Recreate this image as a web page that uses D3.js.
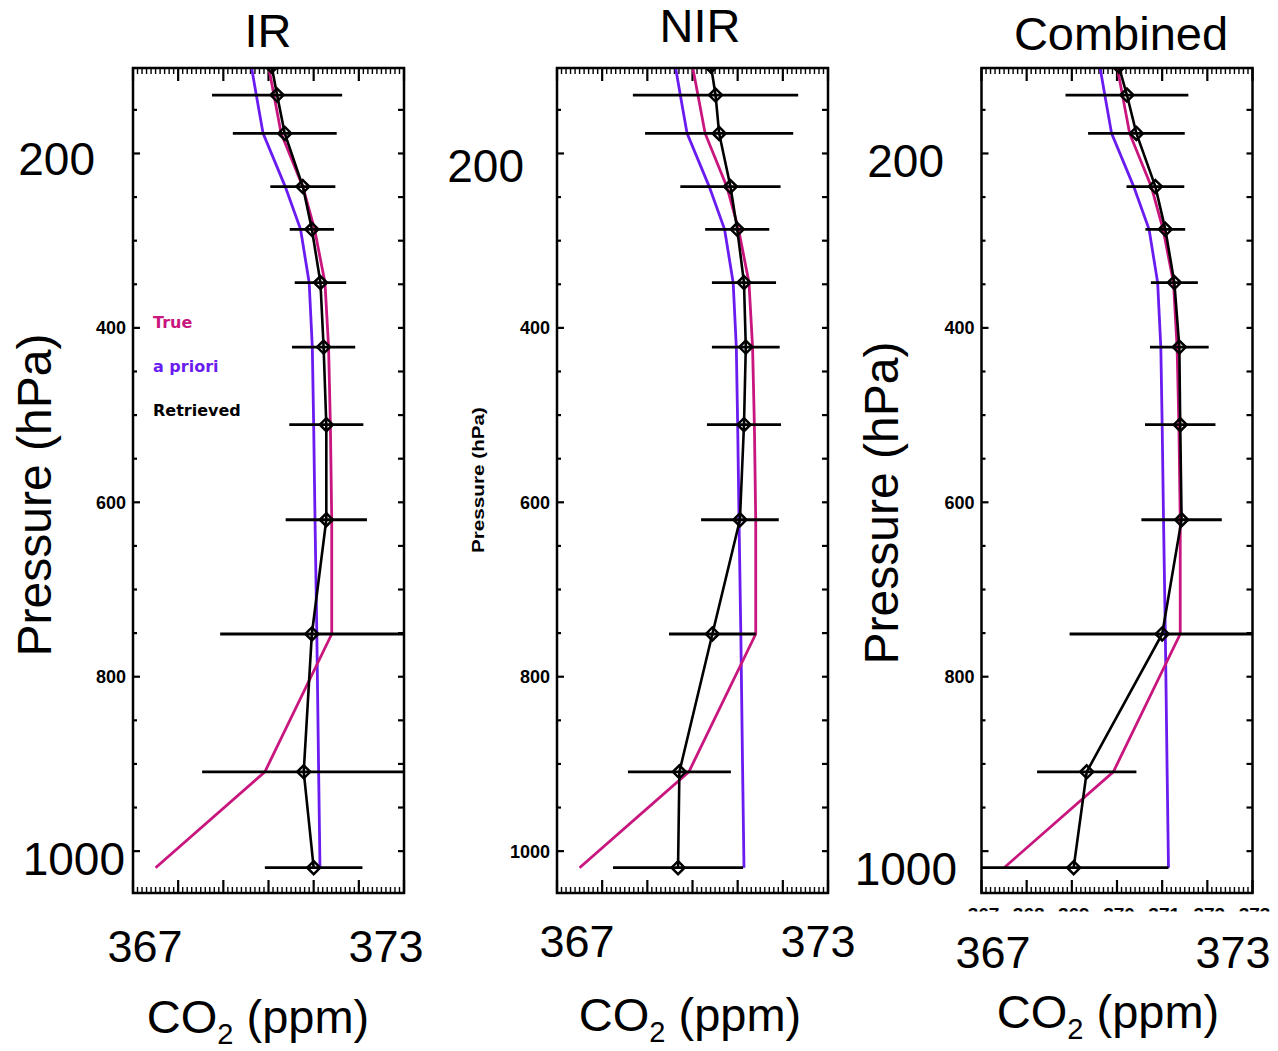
<!DOCTYPE html>
<html>
<head>
<meta charset="utf-8">
<script src="https://cdn.jsdelivr.net/npm/d3@7"></script>
<style>
  html, body { margin: 0; padding: 0; background: #fff; }
  svg { display: block; }
</style>
</head>
<body>
<svg id="chart" width="1278" height="1051"></svg>
<script>
// Pressure levels of the retrieval grid (hPa)
const levels = [100, 133, 177, 238, 287, 348, 422, 511, 620, 751, 909, 1019];

// True and a priori CO2 profiles (ppm), shared by all three retrievals
const trueCO2    = [370.00, 370.12, 370.28, 370.76, 371.02, 371.25, 371.33, 371.37, 371.40, 371.40, 369.92, 367.50];
const aprioriCO2 = [369.62, 369.73, 369.88, 370.37, 370.71, 370.90, 370.97, 371.00, 371.03, 371.07, 371.11, 371.14];

// Retrieved profiles (ppm) and their 1-sigma errors (ppm)
const irRetrieved   = [370.07, 370.19, 370.36, 370.76, 370.96, 371.15, 371.22, 371.28, 371.28, 370.96, 370.78, 371.00];
const irError       = [1.60, 1.44, 1.15, 0.72, 0.49, 0.57, 0.70, 0.82, 0.90, 2.03, 2.25, 1.08];
const nirRetrieved  = [370.41, 370.51, 370.59, 370.84, 370.99, 371.14, 371.18, 371.14, 371.05, 370.44, 369.71, 369.68];
const nirError      = [2.00, 1.83, 1.64, 1.11, 0.71, 0.71, 0.75, 0.82, 0.86, 0.96, 1.14, 1.44];
const combRetrieved = [370.04, 370.22, 370.43, 370.85, 371.07, 371.27, 371.38, 371.40, 371.43, 371.00, 369.33, 369.04];
const combError     = [1.50, 1.36, 1.07, 0.64, 0.44, 0.52, 0.65, 0.78, 0.89, 2.05, 1.10, 2.10];

// Axis ranges and tick labels
const co2Range = [367, 373];
const pressureRange = [102, 1048];
const pressureLabels = [200, 400, 600, 800, 1000];
const co2TickLabels = [367, 368, 369, 370, 371, 372, 373];
const legendItems = ["True", "a priori", "Retrieved"];

const TRUE_COLOR = "#c8167e";
const APRIORI_COLOR = "#6a1cf0";
const SANS = "'Liberation Sans', Arial, Helvetica, sans-serif";

const svg = d3.select("#chart");
const TOP = 68, BOTTOM = 893, WIDTH = 271;

const panels = [
  { key: "ir", title: "IR", left: 133, ret: irRetrieved, err: irError,
    titleX: 268, titleY: 47, big200: [95, 175], big1000: [125, 875], small1000: false,
    bigYTitle: true, yTitleX: 51, yTitleY: 495,
    xl: [145, 386, 962], co2: [258, 1033], legend: true, cutLabels: false },
  { key: "nir", title: "NIR", left: 557, ret: nirRetrieved, err: nirError,
    titleX: 700, titleY: 42, big200: [524, 182], big1000: null, small1000: true,
    bigYTitle: false, yTitleX: 484, yTitleY: 480,
    xl: [577, 818, 957], co2: [690, 1031], legend: false, cutLabels: false },
  { key: "comb", title: "Combined", left: 981.5, ret: combRetrieved, err: combError,
    titleX: 1121, titleY: 50, big200: [944, 177], big1000: [957, 885], small1000: false,
    bigYTitle: true, yTitleX: 898, yTitleY: 503,
    xl: [993, 1233, 968], co2: [1108, 1028], legend: false, cutLabels: true }
];

panels.forEach(p => {
  const x = d3.scaleLinear().domain(co2Range).range([p.left, p.left + WIDTH]);
  const y = d3.scaleLinear().domain(pressureRange).range([TOP, BOTTOM]);
  const g = svg.append("g");

  const clipId = "clip-" + p.key;
  svg.append("clipPath").attr("id", clipId)
    .append("rect").attr("x", p.left).attr("y", TOP).attr("width", WIDTH).attr("height", BOTTOM - TOP);

  // Frame ticks: CO2 axis (top & bottom) with 1 ppm major and 0.1 ppm minor ticks
  const minor = d3.range(co2Range[0], co2Range[1] + 1e-6, 0.1).map(v => +v.toFixed(1));
  const ticks = g.append("g").attr("stroke", "#000").attr("fill", "none");
  minor.forEach(v => {
    const isMajor = Math.abs(v - Math.round(v)) < 1e-6;
    const len = isMajor ? 13 : 6;
    ticks.append("line").attr("x1", x(v)).attr("x2", x(v)).attr("y1", TOP).attr("y2", TOP + len)
      .attr("stroke-width", isMajor ? 2.2 : 1.4);
    ticks.append("line").attr("x1", x(v)).attr("x2", x(v)).attr("y1", BOTTOM).attr("y2", BOTTOM - len)
      .attr("stroke-width", isMajor ? 2.2 : 1.4);
  });
  // Pressure axis ticks every 50 hPa
  d3.range(150, 1050, 50).forEach(pr => {
    const isMajor = pr % 200 === 0;
    ticks.append("line").attr("x1", p.left).attr("x2", p.left + (isMajor ? 7 : 4))
      .attr("y1", y(pr)).attr("y2", y(pr)).attr("stroke-width", 2.2);
    ticks.append("line").attr("x1", p.left + WIDTH).attr("x2", p.left + WIDTH - 6)
      .attr("y1", y(pr)).attr("y2", y(pr)).attr("stroke-width", 2.2);
  });

  // Profiles
  const plot = g.append("g").attr("clip-path", `url(#${clipId})`);
  const line = d3.line().x(d => x(d[0])).y(d => y(d[1]));
  const zip = arr => arr.map((v, i) => [v, levels[i]]);

  plot.append("path").datum(zip(aprioriCO2)).attr("d", line)
    .attr("fill", "none").attr("stroke", APRIORI_COLOR).attr("stroke-width", 2.8);
  plot.append("path").datum(zip(trueCO2)).attr("d", line)
    .attr("fill", "none").attr("stroke", TRUE_COLOR).attr("stroke-width", 2.8);

  // Error bars
  plot.append("g").selectAll("line").data(p.ret.map((v, i) => ({ v, e: p.err[i], pr: levels[i] })))
    .join("line")
    .attr("x1", d => x(d.v - d.e)).attr("x2", d => x(d.v + d.e))
    .attr("y1", d => y(d.pr)).attr("y2", d => y(d.pr))
    .attr("stroke", "#000").attr("stroke-width", 2.8);

  plot.append("path").datum(zip(p.ret)).attr("d", line)
    .attr("fill", "none").attr("stroke", "#000").attr("stroke-width", 2.6);

  // Diamond markers
  plot.append("g").selectAll("path").data(zip(p.ret)).join("path")
    .attr("d", d => {
      const cx = x(d[0]), cy = y(d[1]), r = 6.5;
      return `M${cx},${cy - r}L${cx + r},${cy}L${cx},${cy + r}L${cx - r},${cy}Z`;
    })
    .attr("fill", "none").attr("stroke", "#000").attr("stroke-width", 2.5);

  // Frame
  g.append("rect").attr("x", p.left).attr("y", TOP).attr("width", WIDTH).attr("height", BOTTOM - TOP)
    .attr("fill", "none").attr("stroke", "#000").attr("stroke-width", 2.5);

  // Small pressure tick labels
  pressureLabels.forEach(pr => {
    if (pr === 200) return;
    if (pr === 1000 && !p.small1000) return;
    g.append("text").attr("x", p.left - 7).attr("y", y(pr) + 6.5)
      .attr("text-anchor", "end").attr("font-family", SANS).attr("font-weight", "bold")
      .attr("font-size", 18).text(pr);
  });

  // Large pressure labels
  g.append("text").attr("x", p.big200[0]).attr("y", p.big200[1])
    .attr("text-anchor", "end").attr("font-family", SANS).attr("font-size", 46).text(pressureLabels[0]);
  if (p.big1000) {
    g.append("text").attr("x", p.big1000[0]).attr("y", p.big1000[1])
      .attr("text-anchor", "end").attr("font-family", SANS).attr("font-size", 46)
      .text(pressureLabels[pressureLabels.length - 1]);
  }

  // Partially hidden original CO2 tick labels
  if (p.cutLabels) {
    const cid = "cut-" + p.key;
    svg.append("clipPath").attr("id", cid)
      .append("rect").attr("x", p.left - 30).attr("y", 905).attr("width", WIDTH + 60).attr("height", 6.5);
    g.append("g").attr("clip-path", `url(#${cid})`).selectAll("text").data(co2TickLabels).join("text")
      .attr("x", d => x(d) + 2).attr("y", 921).attr("text-anchor", "middle")
      .attr("font-family", SANS).attr("font-weight", "bold").attr("font-size", 19).text(d => d);
  }

  // Large CO2 end labels
  g.append("text").attr("x", p.xl[0]).attr("y", p.xl[2]).attr("text-anchor", "middle")
    .attr("font-family", SANS).attr("font-size", 45).text(co2TickLabels[0]);
  g.append("text").attr("x", p.xl[1]).attr("y", p.xl[2]).attr("text-anchor", "middle")
    .attr("font-family", SANS).attr("font-size", 45).text(co2TickLabels[co2TickLabels.length - 1]);

  // CO2 axis title with subscript
  const t = g.append("text").attr("x", p.co2[0]).attr("y", p.co2[1]).attr("text-anchor", "middle")
    .attr("font-family", SANS).attr("font-size", 47);
  t.append("tspan").text("CO");
  t.append("tspan").attr("font-size", 29).attr("dy", 11).text("2");
  t.append("tspan").attr("dy", -11).text(" (ppm)");

  // Pressure axis title
  if (p.bigYTitle) {
    g.append("text").attr("transform", `translate(${p.yTitleX},${p.yTitleY}) rotate(-90)`)
      .attr("text-anchor", "middle").attr("font-family", SANS).attr("font-size", 48)
      .text("Pressure (hPa)");
  } else {
    g.append("text").attr("transform", `translate(${p.yTitleX},${p.yTitleY}) rotate(-90)`)
      .attr("text-anchor", "middle").attr("font-family", SANS).attr("font-weight", "bold")
      .attr("font-size", 16).attr("textLength", 146).attr("lengthAdjust", "spacingAndGlyphs")
      .text("Pressure (hPa)");
  }

  // Panel title
  g.append("text").attr("x", p.titleX).attr("y", p.titleY).attr("text-anchor", "middle")
    .attr("font-family", SANS).attr("font-size", 47).text(p.title);

  // Legend
  if (p.legend) {
    const colors = [TRUE_COLOR, APRIORI_COLOR, "#000"];
    g.append("g").selectAll("text").data(legendItems).join("text")
      .attr("x", 153).attr("y", (d, i) => 328 + i * 44)
      .attr("font-family", "'DejaVu Sans', Verdana, sans-serif").attr("font-weight", "bold")
      .attr("font-size", 16).attr("fill", (d, i) => colors[i]).text(d => d);
  }
});
</script>
</body>
</html>
